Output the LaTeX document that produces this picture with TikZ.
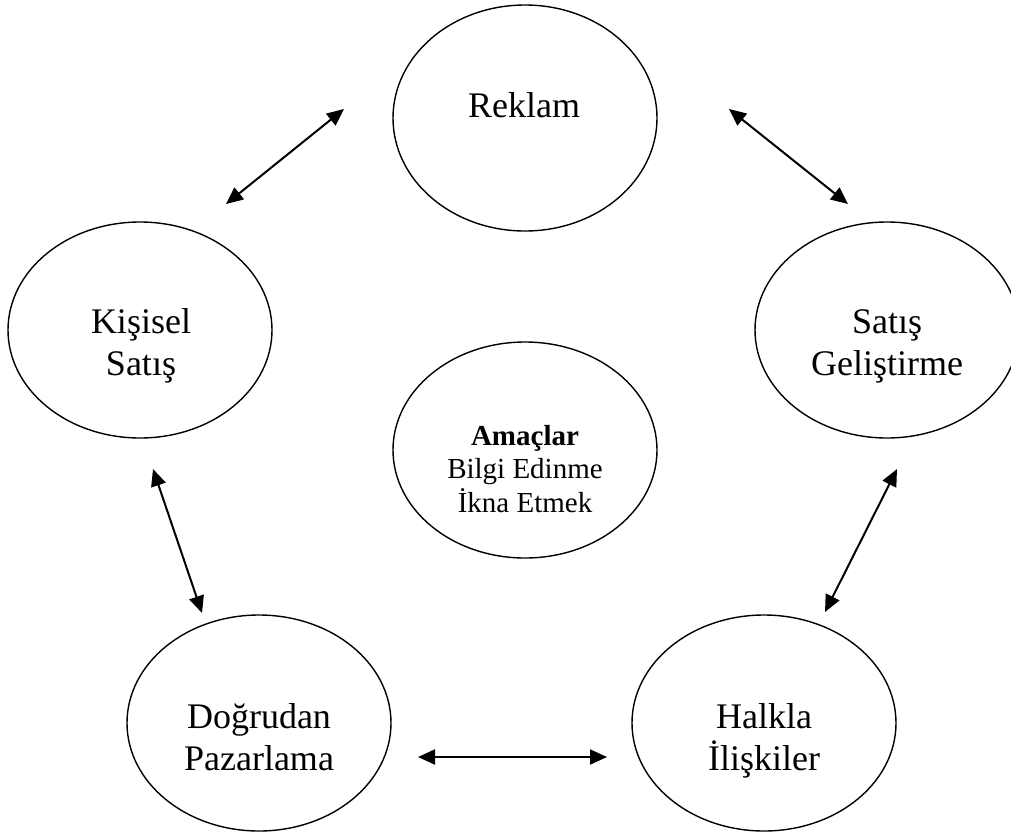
\documentclass[tikz,border=0pt]{standalone}
\usepackage{fontspec}
\setmainfont{Liberation Serif}
\usetikzlibrary{shapes.geometric,arrows.meta}

\begin{document}
\begin{tikzpicture}[y=1pt, x=1pt, yscale=-1, inner sep=0pt, outer sep=0pt,
  oval/.style={draw=black, ellipse, line width=1.4pt, minimum width=264pt,
    minimum height=216pt},
  lbl/.style={anchor=base, align=center, font=\fontsize{36}{42}\selectfont},
  lblsmall/.style={anchor=base, align=center, font=\fontsize{29}{33.5}\selectfont},
  link/.style={line width=2pt,
    {Triangle[length=17pt,width=15pt]}-{Triangle[length=17pt,width=15pt]}}]
\useasboundingbox (0,0) rectangle (1011,831);
  % ellipses
  \node[oval, minimum height=226pt] (reklam) at (525,118) {};
  \node[oval] (kisisel) at (140,330) {};
  \node[oval] (satis) at (887,330) {};
  \node[oval] (amaclar) at (525,450) {};
  \node[oval] (dogrudan) at (259,723) {};
  \node[oval] (halkla) at (764,723) {};
  % texts (anchored on the last baseline)
  \path (524,117) node[lbl] (reklamtext) {Reklam};
  \path (141,375) node[lbl] (kisiseltext) {Kişisel\\Satış};
  \path (887,375) node[lbl] (satistext) {Satış\\Geliştirme};
  \path (525,512) node[lblsmall] (amaclartext) {\textbf{Amaçlar}\\Bilgi Edinme\\İkna Etmek};
  \path (259,770) node[lbl] (dogrudantext) {Doğrudan\\Pazarlama};
  \path (764,770) node[lbl] (halklatext) {Halkla\\İlişkiler};
  % arrow ends
  \coordinate (rk1) at (344,109);
  \coordinate (rk2) at (226,204);
  \coordinate (rs1) at (729,109);
  \coordinate (rs2) at (848,204);
  \coordinate (kd1) at (153,469);
  \coordinate (kd2) at (202,613);
  \coordinate (sh1) at (897,469);
  \coordinate (sh2) at (825,612);
  \coordinate (dh1) at (418,757);
  \coordinate (dh2) at (607,757);
  \draw[link] (rk1) -- (rk2);
  \draw[link] (rs1) -- (rs2);
  \draw[link] (kd1) -- (kd2);
  \draw[link] (sh1) -- (sh2);
  \draw[link] (dh1) -- (dh2);
\end{tikzpicture}
\end{document}
